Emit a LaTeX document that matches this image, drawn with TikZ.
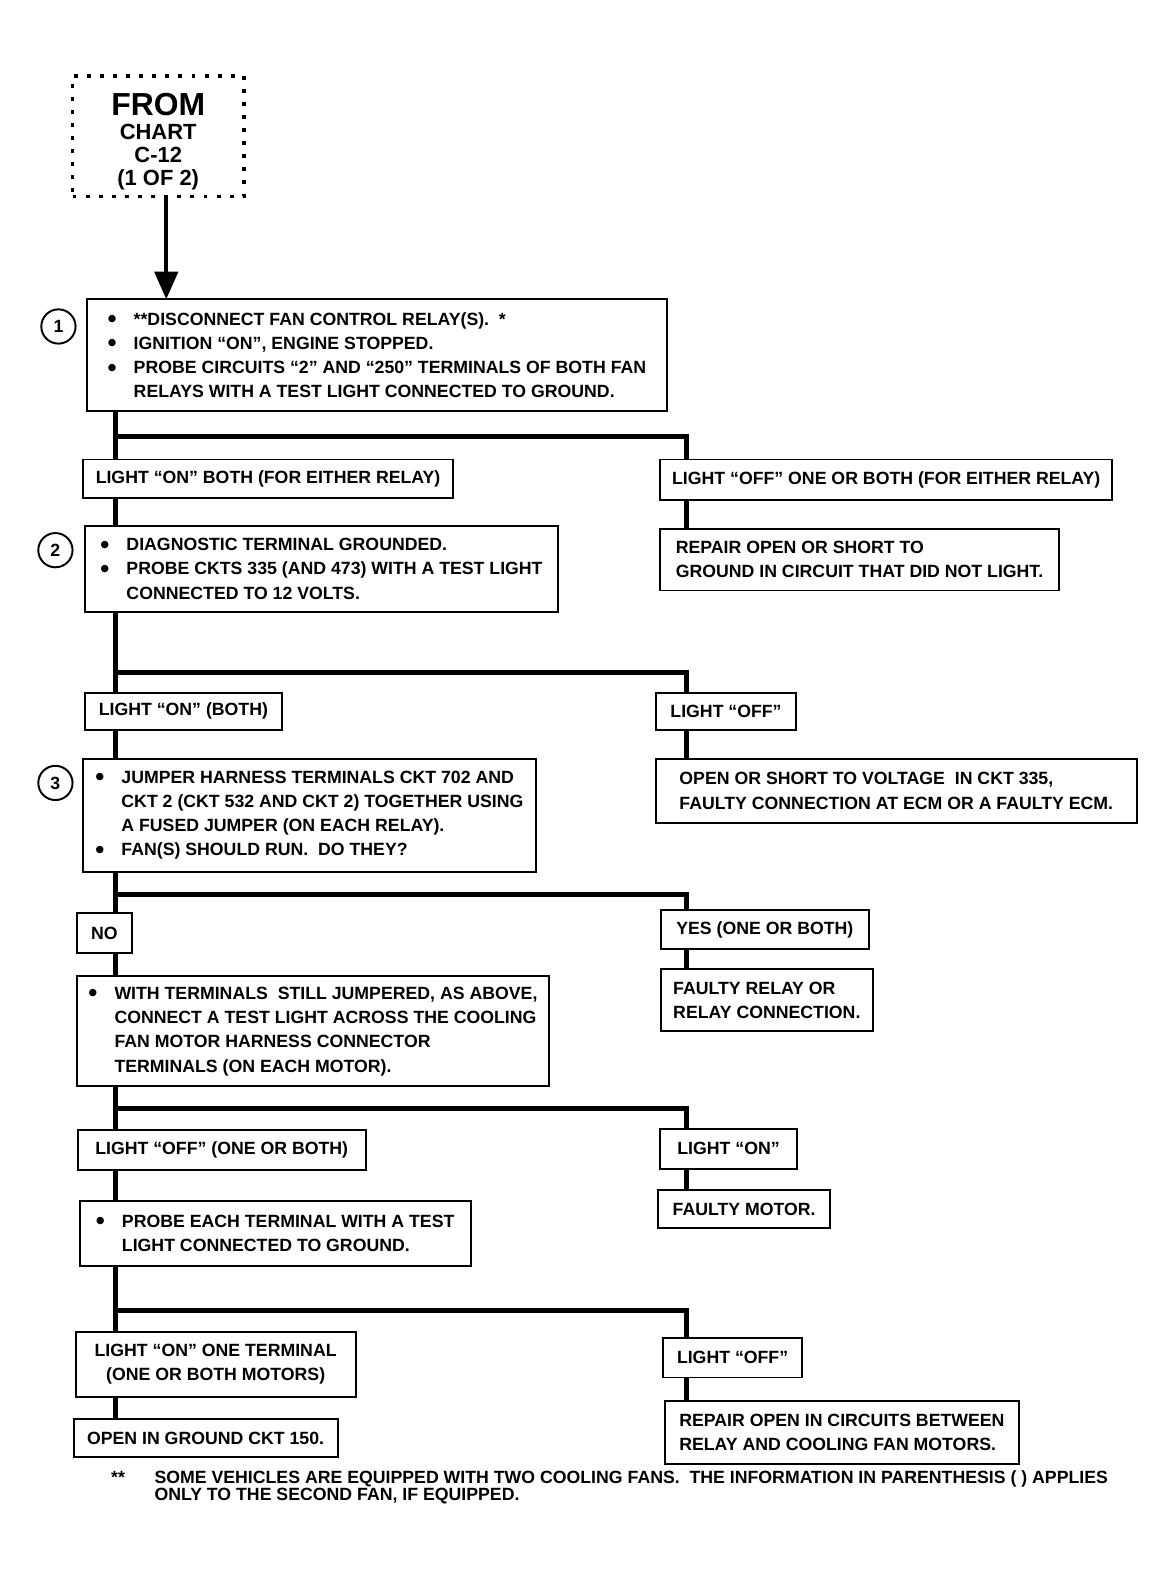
\documentclass[tikz,border=0pt]{standalone}
\usepackage{fontspec}
\setmainfont{Liberation Sans}
\usetikzlibrary{arrows.meta}

\newcommand{\bul}{\makebox[0.52cm][l]{\raisebox{-0.14em}{\scalebox{1.45}{\textbullet}}}}
\newcommand{\ind}{\hspace*{0.52cm}}

\begin{document}
\begin{tikzpicture}[x=0.02cm, y=-0.02cm,
    font=\bfseries\fontsize{10}{13.7}\selectfont,
    box/.style={draw, line width=1.1pt, anchor=north west, align=left,
      inner xsep=0.22cm, inner ysep=1pt, outer sep=0pt},
    boxsize/.style 2 args={minimum width=#1*0.02cm, minimum height=#2*0.02cm},
    frombox/.style={draw, line width=2.2pt, dash pattern=on 2.2pt off 5.2pt,
      align=center, inner sep=0pt, outer sep=0pt,
      font=\bfseries\fontsize{12.4}{13}\selectfont},
    stepno/.style={draw, circle, line width=1.1pt, minimum size=0.68cm,
      inner sep=0pt, font=\bfseries\fontsize{10}{12}\selectfont},
    flow/.style={line width=2.8pt},
  ]
  \useasboundingbox (0,0) rectangle (1167,1568);

  % start
  \node[frombox, boxsize={170}{120}] (from) at (157,135)
    {{\fontsize{18}{18}\selectfont\rule{0pt}{19pt}FROM}\\[1pt] CHART\\ C-12\\ (1 OF 2)};

  % steps
  \node[box, boxsize={576}{111}] (b1) at (86,297)
    {\bul **DISCONNECT FAN CONTROL RELAY(S).\ \ *\\
     \bul IGNITION “ON”, ENGINE STOPPED.\\
     \bul PROBE CIRCUITS “2” AND “250” TERMINALS OF BOTH FAN\\
     \ind RELAYS WITH A TEST LIGHT CONNECTED TO GROUND.};
  \node[stepno] (n1) at (58,324) {1};

  \node[box, boxsize={368}{38}] (l1a) at (82,456) {LIGHT “ON” BOTH (FOR EITHER RELAY)};
  \node[box, boxsize={449}{40}] (l1b) at (655,456) {LIGHT “OFF” ONE OR BOTH (FOR EITHER RELAY)};
  \node[box, boxsize={396}{61}] (r1) at (655,525)
    {REPAIR OPEN OR SHORT TO\\ GROUND IN CIRCUIT THAT DID NOT LIGHT.};

  \node[box, boxsize={470}{85}] (b2) at (84,522)
    {\bul DIAGNOSTIC TERMINAL GROUNDED.\\
     \bul PROBE CKTS 335 (AND 473) WITH A TEST LIGHT\\
     \ind CONNECTED TO 12 VOLTS.};
  \node[stepno] (n2) at (55,546) {2};

  \node[box, boxsize={196}{36}] (l2a) at (84,688) {LIGHT “ON” (BOTH)};
  \node[box, boxsize={139}{36}] (l2b) at (651,688) {LIGHT “OFF”};
  \node[box, boxsize={477}{64}] (r2) at (651,753)
    {OPEN OR SHORT TO VOLTAGE\ \ IN CKT 335,\\ FAULTY CONNECTION AT ECM OR A FAULTY ECM.};

  \node[box, boxsize={450}{112}] (b3) at (82,753)
    {\bul JUMPER HARNESS TERMINALS CKT 702 AND\\
     \ind CKT 2 (CKT 532 AND CKT 2) TOGETHER USING\\
     \ind A FUSED JUMPER (ON EACH RELAY).\\
     \bul FAN(S) SHOULD RUN.\ \ DO THEY?};
  \node[stepno] (n3) at (55,777) {3};

  \node[box, boxsize={55}{40}] (l3a) at (76,906) {NO};
  \node[box, boxsize={206}{39}] (l3b) at (656,903) {YES (ONE OR BOTH)};
  \node[box, boxsize={210}{61}] (r3) at (656,962) {FAULTY RELAY OR\\ RELAY CONNECTION.};

  \node[box, boxsize={469}{109}] (b4) at (76,969)
    {\bul WITH TERMINALS\ \ STILL JUMPERED, AS ABOVE,\\
     \ind CONNECT A TEST LIGHT ACROSS THE COOLING\\
     \ind FAN MOTOR HARNESS CONNECTOR\\
     \ind TERMINALS (ON EACH MOTOR).};

  \node[box, boxsize={286}{40}] (l4a) at (77,1121) {LIGHT “OFF” (ONE OR BOTH)};
  \node[box, boxsize={136}{40}] (l4b) at (655,1120) {LIGHT “ON”};
  \node[box, boxsize={171}{38}] (r4) at (653,1181) {FAULTY MOTOR.};

  \node[box, boxsize={388}{64}] (b5) at (79,1192)
    {\bul PROBE EACH TERMINAL WITH A TEST\\
     \ind LIGHT CONNECTED TO GROUND.};

  \node[box, boxsize={278}{64}, align=center] (l5a) at (75,1322)
    {LIGHT “ON” ONE TERMINAL\\ (ONE OR BOTH MOTORS)};
  \node[box, boxsize={138}{39}] (l5b) at (658,1328) {LIGHT “OFF”};
  \node[box, boxsize={262}{38}] (r5a) at (73,1408) {OPEN IN GROUND CKT 150.};
  \node[box, boxsize={351}{63}] (r5b) at (660,1390)
    {REPAIR OPEN IN CIRCUITS BETWEEN\\ RELAY AND COOLING FAN MOTORS.};

  % note
  \node[anchor=north west, align=left, inner sep=0pt,
    font=\bfseries\fontsize{10}{9.7}\selectfont] (note) at (110,1459)
    {\makebox[0.86cm][l]{**}SOME VEHICLES ARE EQUIPPED WITH TWO COOLING FANS.\ \ THE INFORMATION IN PARENTHESIS ( ) APPLIES\\
     \hspace*{0.86cm}ONLY TO THE SECOND FAN, IF EQUIPPED.};

  % connectors
  \coordinate (ax) at (165,0);
  \coordinate (tx) at (115,0);
  \coordinate (rx) at (681,0);
  \coordinate (j1) at (115,433);
  \coordinate (j2) at (115,667);
  \coordinate (j3) at (115,888);
  \coordinate (j4) at (115,1100);
  \coordinate (j5) at (115,1301);

  \draw[flow, line width=2.5pt, -{Triangle[width=0.46cm, length=0.55cm]}]
    (from.south -| ax) -- (b1.north -| ax);

  \draw[flow] (b1.south -| tx) -- (l1a.north -| tx);
  \draw[flow] (j1) -| (l1b.north -| rx);
  \draw[flow] (l1a.south -| tx) -- (b2.north -| tx);
  \draw[flow] (l1b.south -| rx) -- (r1.north -| rx);

  \draw[flow] (b2.south -| tx) -- (l2a.north -| tx);
  \draw[flow] (j2) -| (l2b.north -| rx);
  \draw[flow] (l2a.south -| tx) -- (b3.north -| tx);
  \draw[flow] (l2b.south -| rx) -- (r2.north -| rx);

  \draw[flow] (b3.south -| tx) -- (l3a.north -| tx);
  \draw[flow] (j3) -| (l3b.north -| rx);
  \draw[flow] (l3a.south -| tx) -- (b4.north -| tx);
  \draw[flow] (l3b.south -| rx) -- (r3.north -| rx);

  \draw[flow] (b4.south -| tx) -- (l4a.north -| tx);
  \draw[flow] (j4) -| (l4b.north -| rx);
  \draw[flow] (l4a.south -| tx) -- (b5.north -| tx);
  \draw[flow] (l4b.south -| rx) -- (r4.north -| rx);

  \draw[flow] (b5.south -| tx) -- (l5a.north -| tx);
  \draw[flow] (j5) -| (l5b.north -| rx);
  \draw[flow] (l5a.south -| tx) -- (r5a.north -| tx);
  \draw[flow] (l5b.south -| rx) -- (r5b.north -| rx);
\end{tikzpicture}
\end{document}
